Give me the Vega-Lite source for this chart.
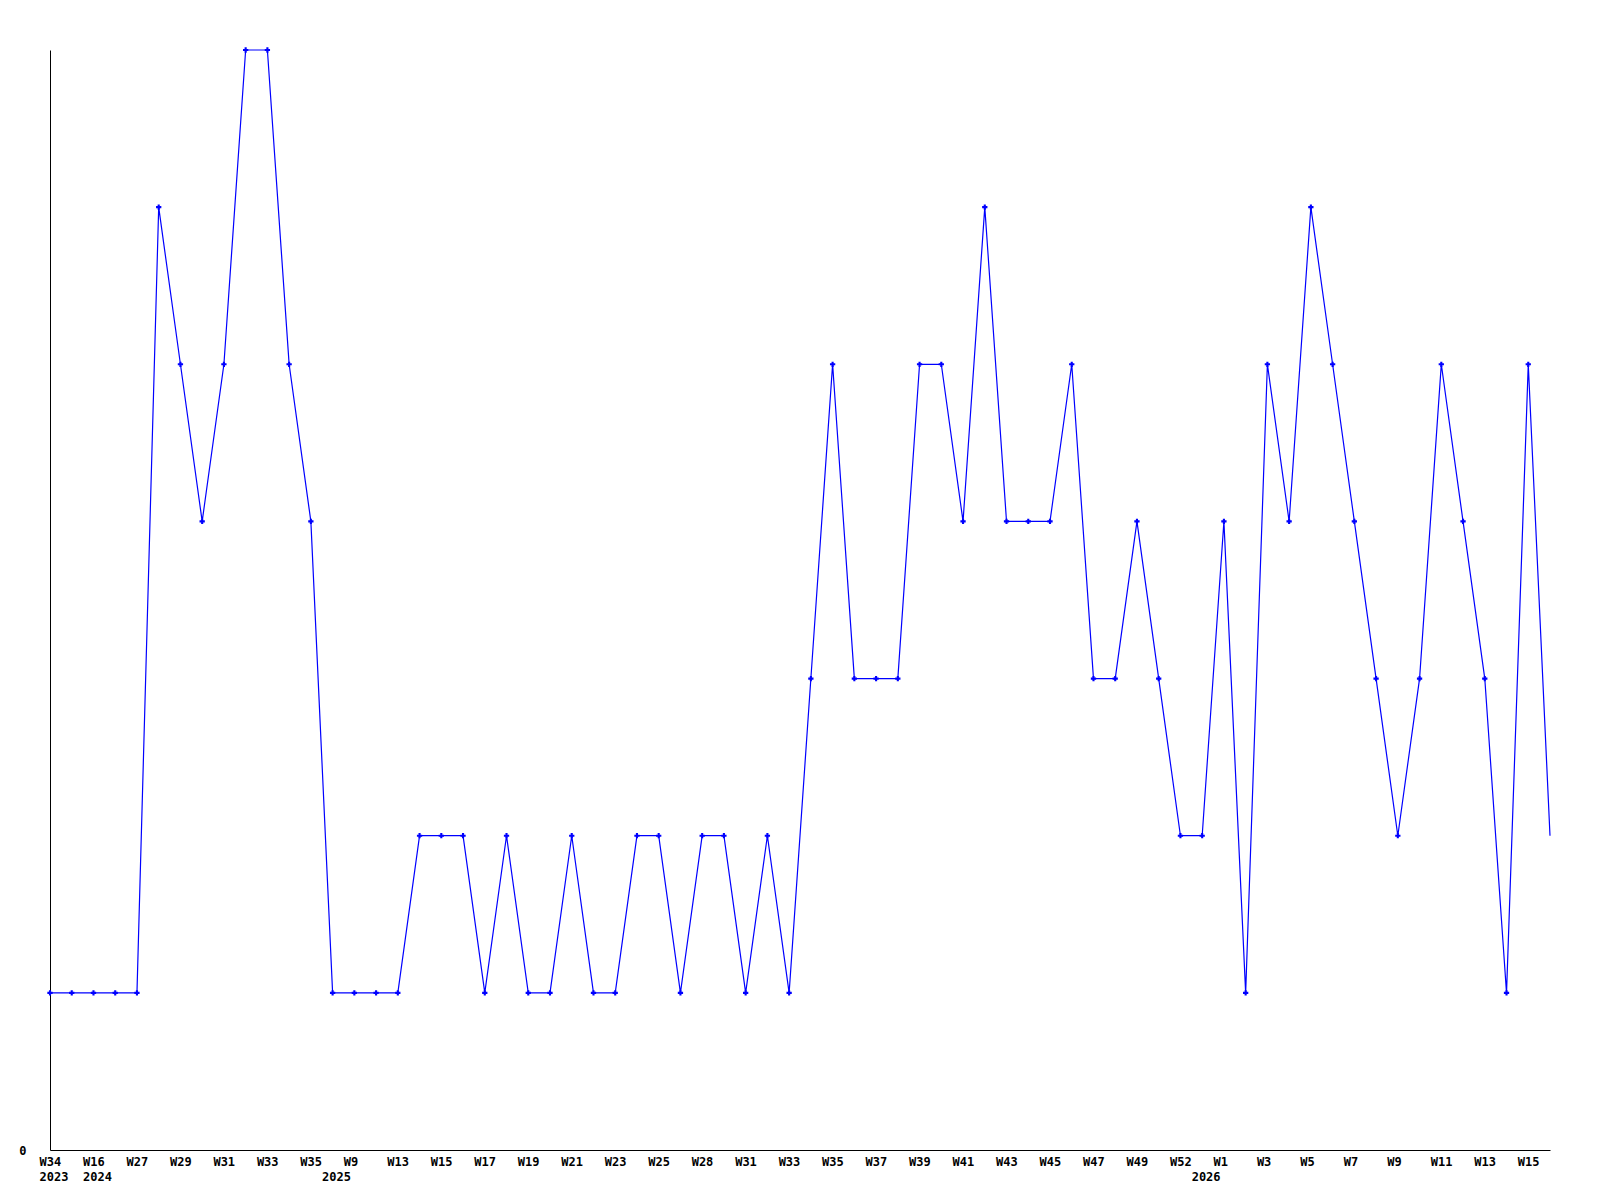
{
  "$schema": "https://vega.github.io/schema/vega-lite/v6.json",
  "width": 1500,
  "height": 1100,
  "autosize": "none",
  "padding": {"left": 50, "top": 50, "right": 50, "bottom": 50},
  "background": "white",
  "config": {"view": {"stroke": null}},
  "data": {"values": [
    {"i": 0, "count": 1}, {"i": 1, "count": 1}, {"i": 2, "count": 1}, {"i": 3, "count": 1},
    {"i": 4, "count": 1}, {"i": 5, "count": 6}, {"i": 6, "count": 5}, {"i": 7, "count": 4},
    {"i": 8, "count": 5}, {"i": 9, "count": 7}, {"i": 10, "count": 7}, {"i": 11, "count": 5},
    {"i": 12, "count": 4}, {"i": 13, "count": 1}, {"i": 14, "count": 1}, {"i": 15, "count": 1},
    {"i": 16, "count": 1}, {"i": 17, "count": 2}, {"i": 18, "count": 2}, {"i": 19, "count": 2},
    {"i": 20, "count": 1}, {"i": 21, "count": 2}, {"i": 22, "count": 1}, {"i": 23, "count": 1},
    {"i": 24, "count": 2}, {"i": 25, "count": 1}, {"i": 26, "count": 1}, {"i": 27, "count": 2},
    {"i": 28, "count": 2}, {"i": 29, "count": 1}, {"i": 30, "count": 2}, {"i": 31, "count": 2},
    {"i": 32, "count": 1}, {"i": 33, "count": 2}, {"i": 34, "count": 1}, {"i": 35, "count": 3},
    {"i": 36, "count": 5}, {"i": 37, "count": 3}, {"i": 38, "count": 3}, {"i": 39, "count": 3},
    {"i": 40, "count": 5}, {"i": 41, "count": 5}, {"i": 42, "count": 4}, {"i": 43, "count": 6},
    {"i": 44, "count": 4}, {"i": 45, "count": 4}, {"i": 46, "count": 4}, {"i": 47, "count": 5},
    {"i": 48, "count": 3}, {"i": 49, "count": 3}, {"i": 50, "count": 4}, {"i": 51, "count": 3},
    {"i": 52, "count": 2}, {"i": 53, "count": 2}, {"i": 54, "count": 4}, {"i": 55, "count": 1},
    {"i": 56, "count": 5}, {"i": 57, "count": 4}, {"i": 58, "count": 6}, {"i": 59, "count": 5},
    {"i": 60, "count": 4}, {"i": 61, "count": 3}, {"i": 62, "count": 2}, {"i": 63, "count": 3},
    {"i": 64, "count": 5}, {"i": 65, "count": 4}, {"i": 66, "count": 3}, {"i": 67, "count": 1},
    {"i": 68, "count": 5}, {"i": 69, "count": 2}
  ]},
  "encoding": {
    "x": {
      "field": "i",
      "type": "quantitative",
      "scale": {"domain": [0, 69], "nice": false, "zero": false},
      "axis": {
        "values": [0, 2, 4, 6, 8, 10, 12, 13, 14, 16, 18, 20, 22, 24, 26, 28, 30, 32, 34, 36, 38, 40, 42, 44, 46, 48, 50, 52, 53, 54, 56, 58, 60, 62, 64, 66, 68],
        "labelExpr": "[['W34','2023'],'',['W16','2024'],'','W27','','W29','','W31','','W33','','W35',[' ','2025'],'W9','','W13','','W15','','W17','','W19','','W21','','W23','','W25','','W28','','W31','','W33','','W35','','W37','','W39','','W41','','W43','','W45','','W47','','W49','','W52',[' ','2026'],'W1','','W3','','W5','','W7','','W9','','W11','','W13','','W15',''][datum.value]",
        "ticks": false,
        "grid": false,
        "title": null,
        "domainColor": "black",
        "domainWidth": 1,
        "labelFont": "DejaVu Sans Mono",
        "labelFontWeight": "bold",
        "labelFontSize": 12,
        "labelColor": "black",
        "labelAlign": "left",
        "labelOffset": -11,
        "labelBaseline": "top",
        "labelPadding": 6,
        "labelLineHeight": 15.5,
        "labelOverlap": false,
        "labelBound": false,
        "labelFlush": false
      }
    },
    "y": {
      "field": "count",
      "type": "quantitative",
      "scale": {"domain": [0, 7], "nice": false},
      "axis": {
        "values": [0],
        "ticks": false,
        "grid": false,
        "title": null,
        "domainColor": "black",
        "domainWidth": 1,
        "labelFont": "DejaVu Sans Mono",
        "labelFontWeight": "bold",
        "labelFontSize": 12,
        "labelColor": "black",
        "labelPadding": 24,
        "labelBaseline": "middle",
        "labelFlush": false
      }
    }
  },
  "layer": [
    {"mark": {"type": "line", "color": "#0000ff", "strokeWidth": 1.2}},
    {
      "transform": [{"filter": "datum.i < 69"}],
      "mark": {"type": "point", "shape": "cross", "filled": true, "size": 28, "color": "#0000ff", "opacity": 1}
    }
  ]
}
